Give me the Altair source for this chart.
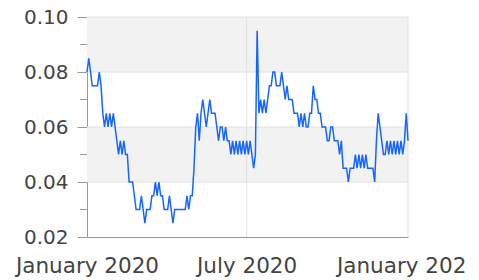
import altair as alt
import pandas as pd

# Values every 2 days from 2020-01-01 to 2021-01-01
values = [
    0.08, 0.085, 0.08, 0.075, 0.075, 0.075, 0.075, 0.08, 0.075, 0.065,
    0.06, 0.065, 0.06, 0.065, 0.06, 0.065, 0.06, 0.055, 0.05, 0.055,
    0.05, 0.055, 0.05, 0.05, 0.04, 0.04, 0.04, 0.035, 0.03, 0.03,
    0.03, 0.035, 0.03, 0.025, 0.03, 0.03, 0.03, 0.035, 0.035, 0.04,
    0.035, 0.04, 0.035, 0.035, 0.03, 0.03, 0.03, 0.035, 0.03, 0.025,
    0.03, 0.03, 0.03, 0.03, 0.03, 0.03, 0.03, 0.035, 0.03, 0.035,
    0.035, 0.045, 0.06, 0.065, 0.055, 0.065, 0.07, 0.065, 0.06, 0.065,
    0.07, 0.065, 0.065, 0.065, 0.06, 0.055, 0.06, 0.06, 0.055, 0.06,
    0.055, 0.055, 0.05, 0.055, 0.05, 0.055, 0.05, 0.055, 0.05, 0.055,
    0.05, 0.055, 0.05, 0.055, 0.05, 0.045, 0.05, 0.095, 0.065, 0.07,
    0.065, 0.07, 0.065, 0.07, 0.075, 0.075, 0.08, 0.08, 0.075, 0.075,
    0.075, 0.08, 0.075, 0.07, 0.075, 0.07, 0.07, 0.07, 0.065, 0.065,
    0.065, 0.06, 0.065, 0.06, 0.065, 0.06, 0.06, 0.065, 0.065, 0.075,
    0.07, 0.07, 0.065, 0.065, 0.06, 0.06, 0.06, 0.055, 0.055, 0.06,
    0.06, 0.055, 0.055, 0.055, 0.05, 0.055, 0.045, 0.045, 0.045, 0.04,
    0.045, 0.045, 0.045, 0.05, 0.045, 0.05, 0.045, 0.05, 0.045, 0.05,
    0.045, 0.045, 0.045, 0.045, 0.04, 0.055, 0.065, 0.06, 0.055, 0.05,
    0.05, 0.055, 0.05, 0.055, 0.05, 0.055, 0.05, 0.055, 0.05, 0.055,
    0.05, 0.055, 0.065, 0.055,
]
dates = pd.date_range("2020-01-01", periods=len(values), freq="2D").strftime("%Y-%m-%d")

y_major = [0.02, 0.04, 0.06, 0.08, 0.10]
y_minor = [0.03, 0.05, 0.07, 0.09]
y_grid = [0.04, 0.06, 0.08, 0.10]
band_lo = [0.04, 0.08]
band_hi = [0.06, 0.10]
x_grid = ["2020-07-01", "2021-01-01"]

W, H = 321, 220

df = pd.DataFrame({"date": dates, "value": values})
bands = pd.DataFrame({"lo": band_lo, "hi": band_hi})
hgrid = pd.DataFrame({"g": y_grid})
vgrid = pd.DataFrame({"d": x_grid})
minor = pd.DataFrame({"m": y_minor})

y_scale = alt.Scale(domain=[0.02, 0.10], nice=False, zero=False)
x_scale = alt.Scale(
    type="utc",
    domain=[alt.DateTime(year=2020, month=1, date=1, utc=True),
            alt.DateTime(year=2021, month=1, date=1, utc=True)],
)

x_axis = alt.Axis(
    title=None,
    values=[alt.DateTime(year=2020, month=1, date=1, utc=True),
            alt.DateTime(year=2020, month=7, date=1, utc=True),
            alt.DateTime(year=2021, month=1, date=1, utc=True)],
    format="%B %Y",
    ticks=False,
    tickSize=0,
    grid=False,
    labelAlign="center",
    labelBaseline="alphabetic",
    labelPadding=35,
    labelFlush=False,
    labelOverlap=False,
    labelFontSize=21.5,
)
y_axis = alt.Axis(
    title=None,
    values=y_major,
    format=".2f",
    tickSize=10,
    labelPadding=9,
    grid=False,
    labelFontSize=20,
)

band_layer = alt.Chart(bands).mark_rect(color="#f2f2f2").encode(
    y=alt.Y("lo:Q", scale=y_scale, axis=y_axis),
    y2="hi:Q",
    x=alt.value(0),
    x2=alt.value(W),
)

hgrid_layer = alt.Chart(hgrid).mark_rule(color="#e2e2e2", strokeWidth=1).encode(
    y=alt.Y("g:Q", scale=y_scale, axis=y_axis),
    x=alt.value(0),
    x2=alt.value(W),
)

vgrid_layer = alt.Chart(vgrid).mark_rule(color="#e2e2e2", strokeWidth=1).encode(
    x=alt.X("d:T", scale=x_scale, axis=x_axis),
    y=alt.value(0),
    y2=alt.value(H),
)

minor_layer = alt.Chart(minor).mark_rule(color="#999999", strokeWidth=1).encode(
    y=alt.Y("m:Q", scale=y_scale, axis=y_axis),
    x=alt.value(-7),
    x2=alt.value(0),
)

line_layer = alt.Chart(df).mark_line(color="#1565ff", strokeWidth=1.5).encode(
    x=alt.X("date:T", scale=x_scale, axis=x_axis),
    y=alt.Y("value:Q", scale=y_scale, axis=y_axis),
)

chart = alt.layer(band_layer, hgrid_layer, vgrid_layer, minor_layer, line_layer).properties(
    width=W,
    height=H,
    autosize=alt.AutoSizeParams(type="none"),
    padding={"left": 79, "top": 9, "right": 57, "bottom": 43},
    background="white",
).configure_view(strokeWidth=0).configure_axis(
    labelFont="DejaVu Sans",
    labelColor="#444444",
    domainColor="#999999",
    tickColor="#999999",
    domainWidth=1,
    tickWidth=1,
)

chart.save("out.html", embed_options={"renderer": "svg", "actions": False})
